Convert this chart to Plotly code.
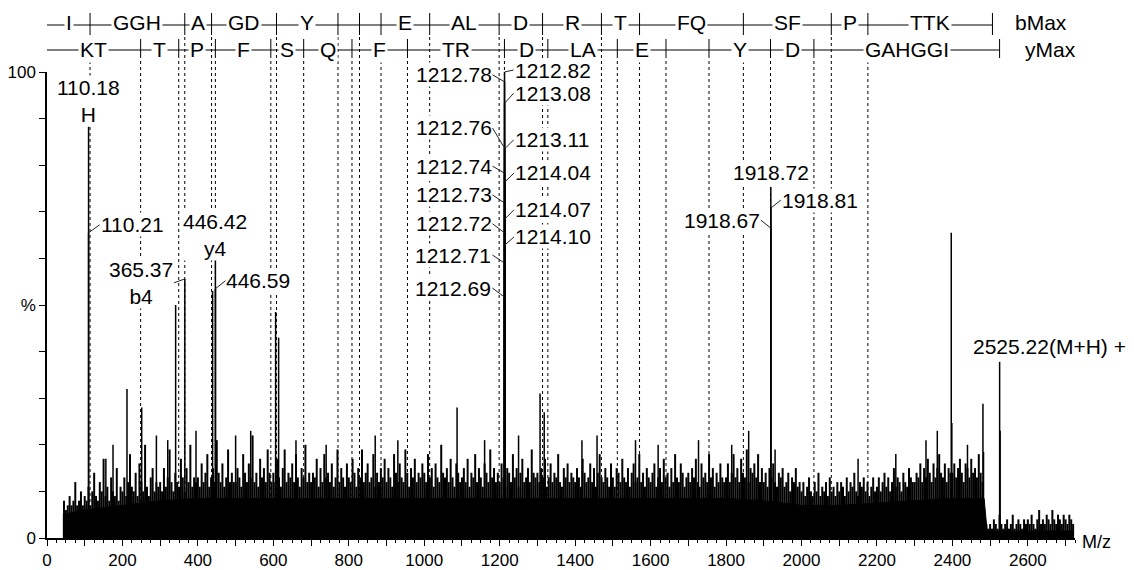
import plotly.graph_objects as go

FONT = "Liberation Sans, Arial, sans-serif"
FS = 21      # annotation and ladder text
TFS = 17     # axis tick labels

# ---- sequence ladders: m/z of each cleavage and the residues between cleavages
b_ladder_mz = [0, 114.1, 365.2, 436.2, 608.3, 771.3, 828.4, 885.4, 1014.4, 1198.5,
               1313.6, 1469.7, 1570.7, 1845.9, 2079.0, 2176.0, 2506.2]
b_ladder_res = ["I", "GGH", "A", "GD", "Y", "", "", "E", "AL", "D", "R", "T",
                "FQ", "SF", "P", "TTK"]
y_ladder_mz = [0, 248.2, 349.2, 446.3, 593.3, 680.4, 808.4, 955.5, 1212.6, 1327.6,
               1511.8, 1640.8, 1754.8, 1917.9, 2032.9, 2525.1]
y_ladder_res = ["KT", "T", "P", "F", "S", "Q", "F", "TR", "D", "LA", "E", "", "Y",
                "D", "GAHGGI"]

# ---- labelled peaks (m/z, relative intensity %, ion annotation)
label_mz = [110.18, 110.21, 365.37, 446.42, 446.59,
            1212.69, 1212.71, 1212.72, 1212.73, 1212.74, 1212.76, 1212.78,
            1212.82, 1213.08, 1213.11, 1214.04, 1214.07, 1214.10,
            1918.67, 1918.72, 1918.81, 2525.22]
label_pct = [88.3, 65.5, 55.6, 60.0, 53.5,
             51.7, 59.0, 65.5, 71.9, 78.3, 83.7, 97.9,
             100.0, 93.3, 83.5, 76.4, 68.5, 62.9,
             66.5, 75.3, 70.8, 37.8]
label_ion = ["H", "", "b4", "y4", "",
             "", "", "", "", "", "", "",
             "", "", "", "", "", "",
             "", "", "", "(M+H) +"]

# ---- other prominent, unlabelled peaks
other_mz = [156, 175, 212, 251, 290, 320, 341, 395, 439, 500, 540, 606, 614, 660,
            740, 870, 930, 1087, 1160, 1250, 1307, 1318, 1418, 1458, 1560, 1620,
            1727, 1815, 1860, 1930, 2150, 2250, 2330, 2360, 2440,
            2397, 2398.5, 2481, 2482.5, 2526.5]
other_pct = [17, 20, 32, 28, 22, 21, 50, 23, 53, 22, 23, 48.5, 43, 21,
             20, 22, 21, 28, 21, 22, 31, 27, 21, 22, 21, 20,
             21, 20, 23, 19, 17, 18, 21, 23, 20,
             65.5, 24.7, 28.8, 18.5, 23]

# ---- solid noise floor
floor_mz = [42, 100, 150, 200, 250, 300, 400, 500, 600, 700, 800, 900, 1000, 1100,
            1200, 1300, 1400, 1500, 1600, 1700, 1800, 1900, 2000, 2100, 2200, 2300,
            2400, 2484, 2492, 2600, 2720]
floor_pct = [5, 6, 6.5, 7, 7.5, 8, 8.5, 8.5, 8.5, 8.5, 8.5, 8.5, 8.5, 8.5,
             8.5, 8.5, 8.5, 8.5, 8.5, 8.5, 8.5, 8, 7, 7, 7.5, 8,
             8.5, 8.5, 1.5, 1.5, 1.5]

# ---- chemical noise, every 5 m/z starting at m/z 45
noise_start, noise_step = 45, 5
noise_pct = [
    8, 6, 7, 9, 7, 8, 12, 7, 8, 10, 7,
    9, 8, 11, 7, 10, 14, 9, 8, 12, 10, 17, 9, 11, 8, 13, 10, 9, 15, 8, 11,
    10, 13, 9, 12, 18, 11, 10, 14, 9, 16, 12, 10, 20, 11, 9, 13, 15, 10, 12, 11,
    12, 10, 15, 11, 13, 19, 12, 10, 14, 12, 11, 17, 13, 10, 15, 12, 20, 11, 13, 12,
    13, 11, 16, 12, 14, 18, 11, 13, 15, 12, 21, 14, 12, 16, 11, 13, 19, 12, 14, 12,
    12, 15, 13, 11, 18, 14, 12, 16, 13, 22, 12, 14, 11, 17, 13, 15, 12, 19, 14, 12,
    14, 12, 17, 13, 11, 15, 19, 12, 14, 13, 16, 12, 18, 13, 11, 15, 13, 20, 12, 14,
    12, 14, 13, 17, 11, 15, 12, 18, 13, 14, 12, 16, 11, 13, 19, 12, 15, 13, 11, 16,
    13, 12, 17, 14, 11, 15, 13, 19, 12, 14, 16, 12, 13, 18, 11, 14, 12, 15, 13, 17,
    12, 15, 13, 11, 18, 14, 12, 16, 13, 12, 19, 14, 11, 15, 13, 17, 12, 14, 13, 16,
    14, 12, 18, 13, 15, 11, 16, 13, 12, 20, 14, 13, 15, 12, 17, 13, 11, 16, 14, 12,
    13, 15, 12, 17, 11, 14, 13, 18, 12, 15, 13, 11, 16, 14, 12, 19, 13, 15, 12, 14,
    12, 16, 13, 11, 15, 14, 12, 18, 13, 15, 11, 14, 17, 12, 13, 15, 12, 19, 14, 13,
    14, 12, 15, 13, 17, 11, 13, 16, 12, 14, 13, 18, 12, 11, 15, 13, 16, 12, 14, 13,
    12, 15, 13, 11, 17, 14, 12, 13, 16, 12, 15, 11, 14, 18, 13, 12, 15, 13, 11, 16,
    13, 11, 15, 14, 12, 17, 13, 12, 15, 11, 14, 16, 12, 13, 18, 12, 14, 11, 15, 13,
    12, 14, 16, 11, 13, 15, 12, 17, 13, 14, 11, 15, 12, 18, 13, 12, 16, 14, 11, 13,
    14, 12, 15, 13, 17, 12, 11, 16, 13, 14, 12, 18, 13, 15, 11, 14, 12, 16, 13, 12,
    13, 16, 12, 14, 18, 13, 15, 12, 17, 14, 13, 19, 12, 15, 14, 16, 13, 18, 12, 15,
    12, 14, 11, 15, 13, 16, 12, 11, 14, 13, 15, 11, 12, 14, 10, 13, 12, 15, 11, 12,
    10, 12, 9, 11, 13, 10, 9, 12, 10, 14, 9, 11, 10, 12, 9, 13, 10, 11, 9, 12,
    10, 12, 11, 9, 13, 10, 12, 11, 14, 10, 9, 12, 11, 13, 10, 12, 9, 11, 13, 10,
    11, 13, 10, 12, 14, 11, 13, 10, 12, 15, 11, 13, 12, 10, 14, 12, 11, 15, 13, 12,
    12, 14, 13, 16, 12, 15, 13, 17, 14, 12, 16, 13, 15, 18, 14, 13, 16, 12, 15, 14,
    14, 16, 13, 15, 17, 14, 12, 16, 15, 13, 17, 14, 15, 13, 18, 14,
    12, 4, 3, 2,
    3, 2, 4, 3, 2, 5, 3, 2, 3, 4, 2, 3, 5, 2, 3, 4, 3, 2, 4, 3,
    4, 3, 5, 3, 2, 4, 6, 3, 4, 3, 5, 4, 3, 6, 4, 3, 5, 4, 3, 5,
    4, 3, 5, 4, 3,
]

# ---- axis ticks
x_tick_vals = list(range(0, 2701, 100))
x_tick_text = [str(v) if v % 200 == 0 else "" for v in x_tick_vals]
y_tick_vals = list(range(0, 101, 10))
y_tick_text = ["0", "", "", "", "", "%", "", "", "", "", "100"]

# label placement: (side, ax, ay) in pixels relative to the labelled point
label_place = [
    ("top", 0, 0), ("right", 11, -8), ("left", -11, 4), ("top", 0, 3), ("right", 10, -8),
    ("left", -12, -9), ("left", -12, -8), ("left", -12, -9), ("left", -12, -8),
    ("left", -12, -7), ("left", -12, -20), ("left", -12, -7),
    ("right", 9, -2), ("right", 9, -10), ("right", 9, -9), ("right", 9, -9),
    ("right", 9, -9), ("right", 9, -8),
    ("left", -10, -8), ("top", 0, -2), ("right", 10, -8), ("topleft", -28, -3),
]


def stems(mz, pct):
    xs, ys = [], []
    for m, p in zip(mz, pct):
        xs += [m, m, None]
        ys += [0, p, None]
    return xs, ys


noise_mz = [noise_start + noise_step * i for i in range(len(noise_pct))]

fig = go.Figure()
fig.add_trace(go.Scatter(x=floor_mz, y=floor_pct, mode="lines", fill="tozeroy",
                         fillcolor="black", line=dict(color="black", width=1),
                         hoverinfo="skip", showlegend=False))
nx, ny = stems(noise_mz, noise_pct)
fig.add_trace(go.Scatter(x=nx, y=ny, mode="lines", line=dict(color="black", width=2.0),
                         hoverinfo="skip", showlegend=False))
px_, py_ = stems(other_mz + label_mz, other_pct + label_pct)
fig.add_trace(go.Scatter(x=px_, y=py_, mode="lines", line=dict(color="black", width=1.5),
                         hoverinfo="skip", showlegend=False))


# paper-y of ladder elements (plot area spans 466 px, bottom at 538 px)
def pap(py):
    return (538 - py) / 466.0


B_LINE, Y_LINE = pap(25), pap(50)
B_TOP, B_BOT = pap(13), pap(35)
Y_TOP, Y_BOT = pap(39), pap(58)

shapes = []
for ladder, line_y, top, bot in ((b_ladder_mz, B_LINE, B_TOP, B_BOT),
                                 (y_ladder_mz, Y_LINE, Y_TOP, Y_BOT)):
    shapes.append(dict(type="line", xref="x", yref="paper", x0=ladder[0], x1=ladder[-1],
                       y0=line_y, y1=line_y, line=dict(color="black", width=1)))
    for m in ladder[1:]:
        shapes.append(dict(type="line", xref="x", yref="paper", x0=m, x1=m,
                           y0=bot, y1=top, line=dict(color="black", width=1)))
    for m in ladder[1:-1]:
        shapes.append(dict(type="line", xref="x", yref="paper", x0=m, x1=m,
                           y0=0, y1=bot, layer="below",
                           line=dict(color="black", width=1, dash="3px,3px")))

annotations = []

# ladder residue labels
for ladder, res, yc in ((b_ladder_mz, b_ladder_res, pap(23)),
                        (y_ladder_mz, y_ladder_res, pap(49.5))):
    for a, b, r in zip(ladder[:-1], ladder[1:], res):
        if r:
            annotations.append(dict(x=(a + b) / 2, y=yc, xref="x", yref="paper", text=r,
                                    xanchor="center", yanchor="middle",
                                    showarrow=False, bgcolor="white", borderpad=1,
                                    font=dict(family=FONT, size=FS, color="black")))

annotations.append(dict(x=2636, y=pap(23), xref="x", yref="paper", text="bMax",
                        xanchor="center", yanchor="middle", showarrow=False,
                        font=dict(family=FONT, size=FS, color="black")))
annotations.append(dict(x=2659, y=pap(49.5), xref="x", yref="paper", text="yMax",
                        xanchor="center", yanchor="middle", showarrow=False,
                        font=dict(family=FONT, size=FS, color="black")))
annotations.append(dict(x=1, y=0, xref="paper", yref="paper", text="M/z", xanchor="left",
                        yanchor="middle", xshift=5, yshift=-4, showarrow=False,
                        font=dict(family=FONT, size=18, color="black")))

# peak labels
for m, p, ion, (side, ax, ay) in zip(label_mz, label_pct, label_ion, label_place):
    txt = f"{m:.2f}"
    base = dict(x=m, y=p, xref="x", yref="y", bgcolor="white", borderpad=0,
                font=dict(family=FONT, size=FS, color="black"))
    if side == "top":
        if ion:
            txt += "<br>" + ion
        base.update(text=txt, showarrow=False, yanchor="bottom", xanchor="center", yshift=-ay)
    elif side == "topleft":
        base.update(text=txt + ion, showarrow=False, yanchor="bottom", xanchor="left",
                    xshift=ax, yshift=-ay)
    else:
        if ion:
            txt += "<br>" + ion
        base.update(text=txt, showarrow=True, arrowhead=0, arrowwidth=1, arrowcolor="#222",
                    ax=ax, ay=ay, axref="pixel", ayref="pixel", standoff=0,
                    xanchor="left" if side == "right" else "right", yanchor="middle")
    annotations.append(base)

fig.update_layout(
    width=1134, height=570,
    margin=dict(l=47, r=59, t=72, b=32, autoexpand=False),
    paper_bgcolor="white", plot_bgcolor="white",
    shapes=shapes, annotations=annotations,
    showlegend=False,
    xaxis=dict(range=[0, 2725], showgrid=False, zeroline=False, showline=True,
               automargin=False,
               linecolor="black", linewidth=1.5, ticks="outside", ticklen=6,
               tickcolor="black", tickvals=x_tick_vals, ticktext=x_tick_text,
               tickfont=dict(family=FONT, size=TFS, color="black"),
               minor=dict(dtick=25, tick0=0, ticks="outside", ticklen=3, tickcolor="black")),
    yaxis=dict(range=[0, 100], showgrid=False, zeroline=False, showline=True,
               automargin=False,
               linecolor="black", linewidth=1.5, ticks="outside", ticklen=6,
               tickcolor="black", tickvals=y_tick_vals, ticktext=y_tick_text,
               tickfont=dict(family=FONT, size=TFS, color="black")),
)

fig.write_html("out.html")
